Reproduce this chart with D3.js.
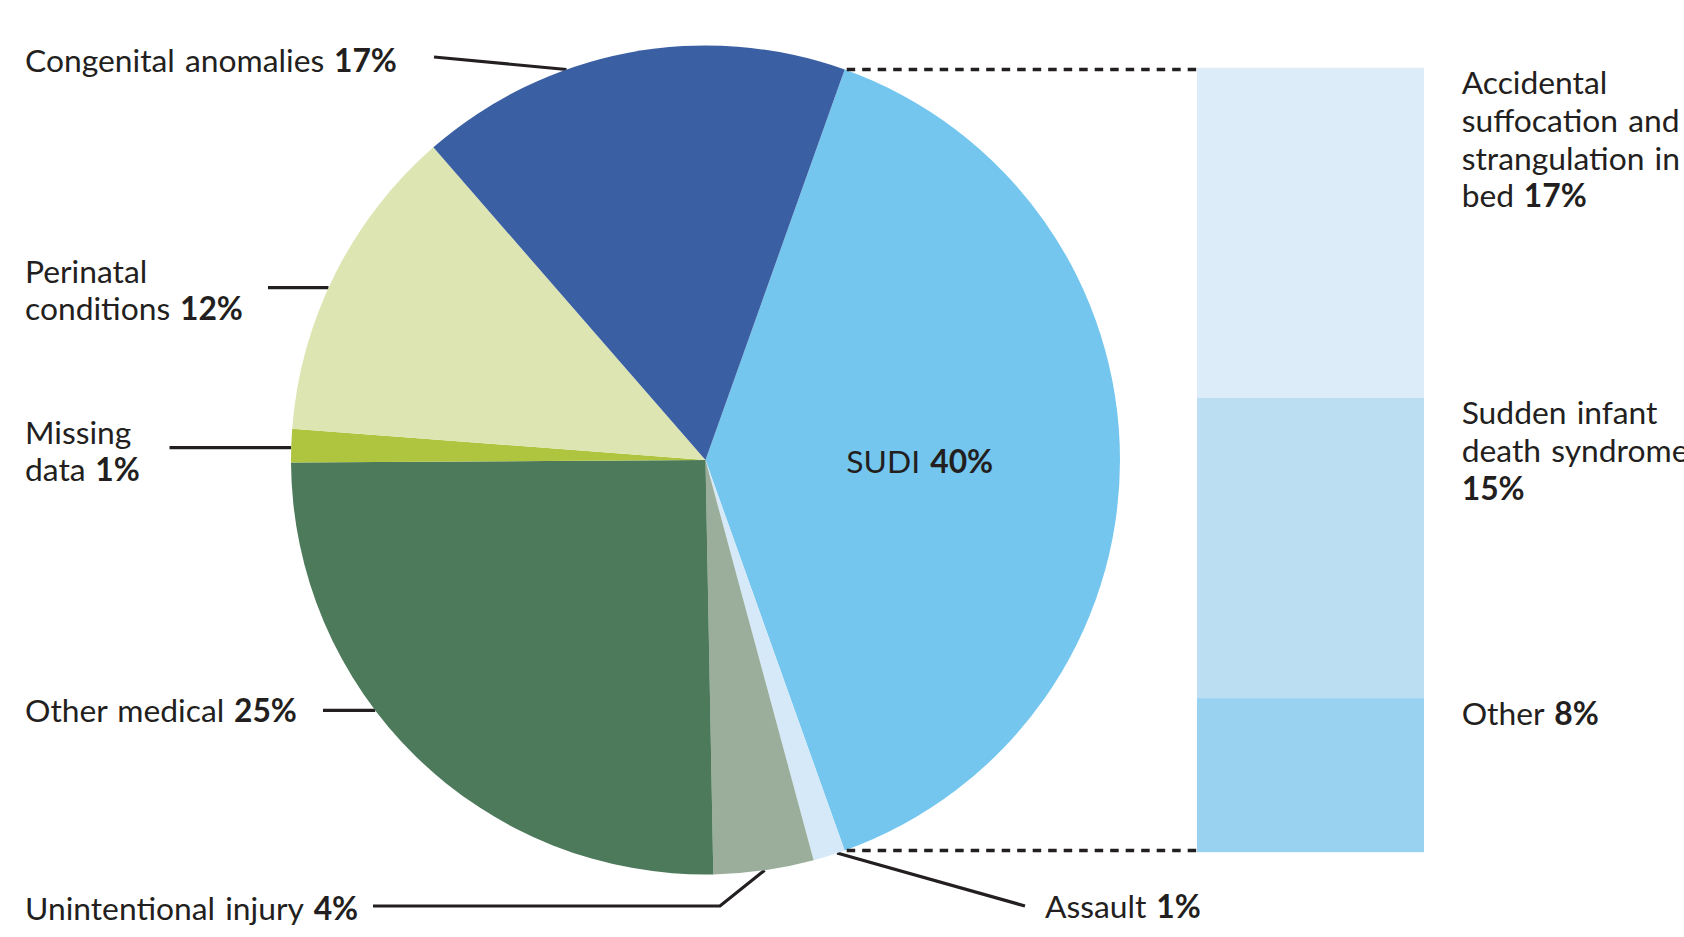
<!DOCTYPE html>
<meta charset="utf-8">
<style>
  body { margin: 0; background: #fff; }
  svg text { font-family: Lato, sans-serif; font-size: 31.8px; word-spacing: 2px; fill: #231f20; }
  .pct { font-weight: 700; }
</style>
<body>
<svg id="chart" width="1684" height="937"></svg>
<script src="https://d3js.org/d3.v7.min.js"></script>
<script>

// deaths by cause, share of total (%), clockwise from SUDI
var causes = ["SUDI", "Assault", "Unintentional injury", "Other medical", "Missing data", "Perinatal conditions", "Congenital anomalies"];
var shares = [39.1, 1.25, 3.9, 25.2, 1.3, 12.4, 16.85];
var shareLabels = ["40%", "1%", "4%", "25%", "1%", "12%", "17%"];
var sliceColors = ["#74c6ee", "#d5e9f8", "#9bae9b", "#4d7a5b", "#afc43f", "#dde5b2", "#3b5fa3"];

// breakdown of SUDI
var sudiParts = ["Accidental suffocation and strangulation in bed", "Sudden infant death syndrome", "Other"];
var sudiShares = [16.5, 15.0, 7.7];
var sudiLabels = ["17%", "15%", "8%"];
var sudiColors = ["#dcedf9", "#bbdef3", "#99d1f0"];

var cx = 705.5, cy = 460, r = 414.5;
var lineH = 37.6;
var ink = "#231f20";

// label placement: words per line, pct on own line or not, leader line
var labelLayout = {
  "Congenital anomalies": {x: 25, y: 71.7, words: [2], from: [[434, 57]], angle: 340.4},
  "Perinatal conditions": {x: 25, y: 282.5, words: [1, 1], from: [[268, 287.7]]},
  "Missing data": {x: 25, y: 443.6, words: [1, 1], from: [[169.5, 447.7]]},
  "Other medical": {x: 25, y: 722, words: [2], from: [[323, 710.4]]},
  "Unintentional injury": {x: 25, y: 920, words: [2], from: [[373, 906], [720, 906]], angle: 171.8},
  "Assault": {x: 1045, y: 918.3, words: [1], from: [[1025, 906]], angle: 161.5}
};
var sudiLayout = {
  "Accidental suffocation and strangulation in bed": {words: [1, 2, 2, 1]},
  "Sudden infant death syndrome": {words: [2, 2], pctOwnLine: true},
  "Other": {words: [1]}
};

var svg = d3.select("#chart");
var total = d3.sum(shares);
var a0 = Math.PI / 2 - Math.PI * shares[0] / total;

var pie = d3.pie().sort(null).value(d => d).startAngle(a0).endAngle(a0 + 2 * Math.PI);
var arcs = pie(shares);
var arc = d3.arc().innerRadius(0).outerRadius(r);

function onCircle(a) {
  return [cx + r * Math.sin(a), cy - r * Math.cos(a)];
}

function writeLines(g, name, pct, x, y, words, pctOwnLine) {
  var w = name.split(" ");
  var rows = [];
  var k = 0;
  words.forEach(function(n) { rows.push(w.slice(k, k + n).join(" ")); k += n; });
  var t = g.append("text").attr("x", x).attr("y", y);
  rows.forEach(function(row, i) {
    t.append("tspan").attr("x", x).attr("y", y + i * lineH).text(row);
    if (i == rows.length - 1 && !pctOwnLine) {
      t.append("tspan").attr("class", "pct").text(" " + pct);
    }
  });
  if (pctOwnLine) {
    t.append("tspan").attr("class", "pct").attr("x", x).attr("y", y + rows.length * lineH).text(pct);
  }
}

// leader lines (under the pie)
var leaders = svg.append("g").attr("fill", "none").attr("stroke", ink).attr("stroke-width", 3.2);
causes.forEach(function(c, i) {
  var L = labelLayout[c];
  if (!L) return;
  var pts = L.from.slice();
  if (L.angle !== undefined) {
    pts.push(onCircle(L.angle * Math.PI / 180));
  } else {
    var y = pts[0][1];
    pts.push([cx - Math.sqrt(r * r - (y - cy) * (y - cy)), y]);
  }
  leaders.append("path").attr("d", d3.line()(pts));
});

// pie
svg.append("g").attr("transform", "translate(" + cx + "," + cy + ")")
  .selectAll("path")
  .data(arcs)
  .enter().append("path")
  .attr("d", arc)
  .attr("fill", (d, i) => sliceColors[i]);

// SUDI label inside slice
var cen = arc.centroid(arcs[0]);
var sudiText = svg.append("text")
  .attr("x", cx + cen[0] + 7)
  .attr("y", cy + cen[1] + 13)
  .attr("text-anchor", "middle");
sudiText.append("tspan").text(causes[0] + " ");
sudiText.append("tspan").attr("class", "pct").text(shareLabels[0]);

// outer labels
var labels = svg.append("g");
causes.forEach(function(c, i) {
  var L = labelLayout[c];
  if (!L) return;
  writeLines(labels, c, shareLabels[i], L.x, L.y, L.words, false);
});

// SUDI breakdown bar
var pTop = onCircle(arcs[0].startAngle);
var pBot = onCircle(arcs[0].endAngle);
var barX = 1197, barW = 227;
var y = d3.scaleLinear()
  .domain([0, d3.sum(sudiShares)])
  .range([pTop[1] - 1.75, pBot[1] + 1.75]);
var cum = d3.cumsum(sudiShares);

svg.append("g")
  .selectAll("rect")
  .data(sudiShares)
  .enter().append("rect")
  .attr("x", barX)
  .attr("width", barW)
  .attr("y", (d, i) => y(cum[i] - d))
  .attr("height", d => y(d) - y(0))
  .attr("fill", (d, i) => sudiColors[i]);

// dashed connectors
var dash = svg.append("g").attr("stroke", ink).attr("stroke-width", 3.5).attr("stroke-dasharray", "8.5,7");
[pTop, pBot].forEach(function(p) {
  dash.append("line")
    .attr("x1", p[0] + 2).attr("y1", p[1])
    .attr("x2", barX).attr("y2", p[1]);
});

var sub = svg.append("g");
sudiParts.forEach(function(name, i) {
  var L = sudiLayout[name];
  writeLines(sub, name, sudiLabels[i], 1461.7, y(cum[i] - sudiShares[i]) + 26.5, L.words, L.pctOwnLine);
});

</script>
</body>
